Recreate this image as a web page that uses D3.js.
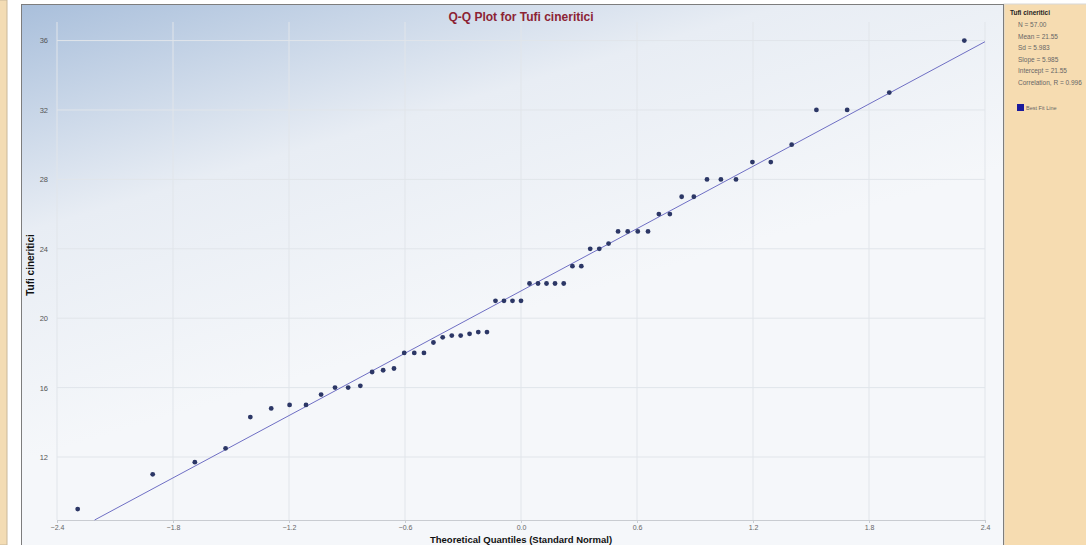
<!DOCTYPE html>
<html>
<head>
<meta charset="utf-8">
<script src="https://cdn.jsdelivr.net/npm/d3@7"></script>
<style>
  body { margin: 0; background: #fff; }
  svg { display: block; font-family: "Liberation Sans", Arial, sans-serif; }
</style>
</head>
<body>
<div id="chart"></div>
<script>
// Theoretical quantiles (standard normal), one per sorted observation
const quantiles = [
  -2.293, -1.905, -1.687, -1.528, -1.400, -1.292, -1.197, -1.112, -1.034, -0.962,
  -0.894, -0.831, -0.770, -0.713, -0.657, -0.604, -0.552, -0.502, -0.453, -0.405,
  -0.358, -0.312, -0.266, -0.221, -0.176, -0.132, -0.088, -0.044, 0.000, 0.044,
  0.088, 0.132, 0.176, 0.221, 0.266, 0.312, 0.358, 0.405, 0.453, 0.502,
  0.552, 0.604, 0.657, 0.713, 0.770, 0.831, 0.894, 0.962, 1.034, 1.112,
  1.197, 1.292, 1.400, 1.528, 1.687, 1.905, 2.293
];
// Observed values of Tufi cineritici (sorted)
const observed = [
  9.0, 11.0, 11.7, 12.5, 14.3, 14.8, 15.0, 15.0, 15.6, 16.0,
  16.0, 16.1, 16.9, 17.0, 17.1, 18.0, 18.0, 18.0, 18.6, 18.9,
  19.0, 19.0, 19.1, 19.2, 19.2, 21.0, 21.0, 21.0, 21.0, 22.0,
  22.0, 22.0, 22.0, 22.0, 23.0, 23.0, 24.0, 24.0, 24.3, 25.0,
  25.0, 25.0, 25.0, 26.0, 26.0, 27.0, 27.0, 28.0, 28.0, 28.0,
  29.0, 29.0, 30.0, 32.0, 32.0, 33.0, 36.0
];
const xTicks = [-2.4, -1.8, -1.2, -0.6, 0.0, 0.6, 1.2, 1.8, 2.4];
const yTicks = [12, 16, 20, 24, 28, 32, 36];
const statLines = ["N = 57.00", "Mean = 21.55", "Sd = 5.983", "Slope = 5.985", "Intercept = 21.55", "Correlation, R = 0.996"];
const fitSlope = 5.985, fitIntercept = 21.57;
const seriesName = "Tufi cineritici";

const width = 1086, height = 545;
const plot = { left: 57, right: 985, top: 22, bottom: 520 };

const svg = d3.select('#chart').append('svg')
  .attr('width', width).attr('height', height);

const defs = svg.append('defs');
const grad = defs.append('linearGradient').attr('id', 'bg')
  .attr('x1', 0).attr('y1', 0).attr('x2', 0.35).attr('y2', 0.65);
grad.append('stop').attr('offset', 0).attr('stop-color', '#a9bfdb');
grad.append('stop').attr('offset', 0.5).attr('stop-color', '#e8edf4');
grad.append('stop').attr('offset', 1).attr('stop-color', '#f5f7fa');

// left strip and right sidebar
svg.append('rect').attr('x', -1).attr('y', 0).attr('width', 8).attr('height', height)
  .attr('fill', '#f3dcb4').attr('stroke', '#c9b89a');
svg.append('rect').attr('x', 1004).attr('y', 4).attr('width', 83).attr('height', height)
  .attr('fill', '#f6dcb1').attr('stroke', '#d8d8d8');

// plot panel
svg.append('rect').attr('x', 21.5).attr('y', 4.5).attr('width', 982).attr('height', height)
  .attr('fill', 'url(#bg)').attr('stroke', '#7d7d7d');

const x = d3.scaleLinear().domain([-2.4, 2.4]).range([plot.left, plot.right]);
const y = d3.scaleLinear().domain([8.37, 37.07]).range([plot.bottom, plot.top]);

// grid
svg.append('g').selectAll('line').data(xTicks).join('line')
  .attr('x1', d => x(d)).attr('x2', d => x(d))
  .attr('y1', plot.top).attr('y2', plot.bottom)
  .attr('stroke', '#e1e5ea');
svg.append('g').selectAll('line').data(yTicks).join('line')
  .attr('x1', plot.left).attr('x2', plot.right)
  .attr('y1', d => y(d)).attr('y2', d => y(d))
  .attr('stroke', '#e1e5ea');

// axes
const xAxis = svg.append('g').attr('transform', `translate(0,${plot.bottom})`)
  .call(d3.axisBottom(x).tickValues(xTicks).tickFormat(d3.format('.1f')).tickSize(3).tickPadding(2));
xAxis.select('.domain').attr('stroke', '#c9ccd1');
xAxis.selectAll('.tick line').attr('stroke', '#c9ccd1');
xAxis.selectAll('text').attr('fill', '#666').attr('font-size', 7);

const yAxis = svg.append('g').attr('transform', `translate(${plot.left},0)`)
  .call(d3.axisLeft(y).tickValues(yTicks).tickSize(0).tickPadding(9));
yAxis.select('.domain').remove();
yAxis.selectAll('text').attr('fill', '#555').attr('font-size', 7.5);

// best fit line
svg.append('line')
  .attr('x1', x((y.domain()[0] - fitIntercept) / fitSlope)).attr('y1', y(y.domain()[0]))
  .attr('x2', x(2.4)).attr('y2', y(fitIntercept + fitSlope * 2.4))
  .attr('stroke', '#6f6fc4').attr('stroke-width', 1);

// points
svg.append('g').selectAll('circle')
  .data(quantiles.map((q, i) => ({ q, v: observed[i] })))
  .join('circle')
  .attr('cx', d => x(d.q)).attr('cy', d => y(d.v))
  .attr('r', 2.4).attr('fill', '#2c3766');

// titles
svg.append('text').attr('x', 521).attr('y', 21).attr('text-anchor', 'middle')
  .attr('font-size', 12).attr('font-weight', 'bold').attr('fill', '#8c2334')
  .text('Q-Q Plot for ' + seriesName);
svg.append('text').attr('x', 521).attr('y', 543).attr('text-anchor', 'middle')
  .attr('font-size', 9.5).attr('font-weight', 'bold').attr('fill', '#111')
  .text('Theoretical Quantiles (Standard Normal)');
svg.append('text').attr('transform', 'translate(34,265) rotate(-90)').attr('text-anchor', 'middle')
  .attr('font-size', 10).attr('font-weight', 'bold').attr('fill', '#111')
  .text(seriesName);

// sidebar legend
const side = svg.append('g').attr('transform', 'translate(1010,0)');
side.append('text').attr('x', 0).attr('y', 15).attr('font-size', 6.5).attr('font-weight', 'bold')
  .attr('fill', '#222').text(seriesName);
side.selectAll('.stat').data(statLines).join('text').attr('class', 'stat')
  .attr('x', 8).attr('y', (d, i) => 27 + i * 11.5)
  .attr('font-size', 6.5).attr('fill', '#666').text(d => d);
side.append('rect').attr('x', 7).attr('y', 104).attr('width', 7).attr('height', 7)
  .attr('fill', '#1a1a9c');
side.append('text').attr('x', 16).attr('y', 110).attr('font-size', 5.5).attr('fill', '#666')
  .text('Best Fit Line');
</script>
</body>
</html>
